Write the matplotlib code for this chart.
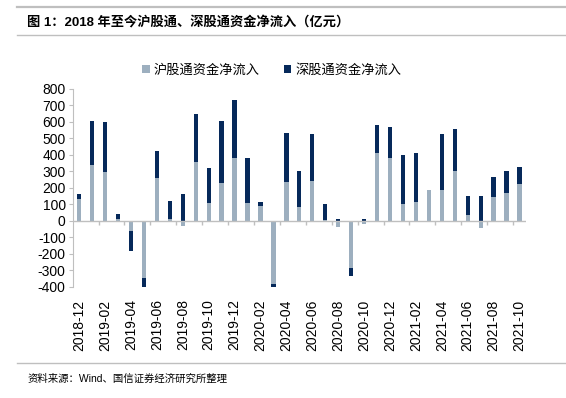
import matplotlib
matplotlib.use("Agg")
import matplotlib.pyplot as plt
from matplotlib.lines import Line2D
import numpy as np
import pandas as pd

plt.rcParams['font.family'] = ['Liberation Sans', 'Noto Sans CJK SC']
plt.rcParams['axes.unicode_minus'] = False

# data (亿元)
months = pd.period_range('2018-12', periods=35, freq='M').strftime('%Y-%m').tolist()
sh_flow = [135, 339, 295, 10, -61, -343, 263, 12, -30, 357, 109, 230, 382, 111, 89, -382, 236, 85,
           244, 5, -34, -283, -16, 412, 382, 103, 115, 186, 186, 303, 36, -44, 145, 172, 224]
sz_flow = [27, 267, 307, 32, -121, -65, 163, 107, 164, 291, 210, 374, 349, 271, 26, -25, 297, 216,
           283, 96, 12, -48, 14, 168, 190, 295, 297, 3, 339, 255, 116, 152, 124, 133, 101]
labels = ['沪股通资金净流入', '深股通资金净流入']

sh_color = '#9DAFBF'
sz_color = '#06295A'
axis_color = '#BFBFBF'

sh = np.array(sh_flow)
sz = np.array(sz_flow)
x = np.arange(len(months))
# excel style stacking: positives and negatives pile up separately
sz_bottom = np.where(np.sign(sz) == np.sign(sh), sh, 0)

fig = plt.figure(figsize=(5.66, 3.98), dpi=100)
ax = fig.add_axes([0.1284, 0.2789, 0.8009, 0.4975])

ax.bar(x, sh, width=0.33, color=sh_color, label=labels[0], zorder=2)
ax.bar(x, sz, width=0.33, bottom=sz_bottom, color=sz_color, label=labels[1], zorder=2)

ax.set_xlim(-0.5, len(months) - 0.5)
ax.set_ylim(-400, 800)
ax.set_yticks(np.arange(-400, 801, 100))
ax.tick_params(axis='y', labelsize=10, length=3, color=axis_color, pad=2)

ax.set_xticks(x[::2])
ax.set_xticklabels(months[::2], rotation=90, fontsize=10)
ax.tick_params(axis='x', length=0, pad=9)

for s in ['top', 'right', 'bottom']:
    ax.spines[s].set_visible(False)
ax.spines['left'].set_color(axis_color)

# zero line with tick marks every two months
ax.axhline(0, color=axis_color, lw=1, zorder=3)
ax.vlines(np.arange(1.5, len(months) - 1, 2), -22, 0, color=axis_color, lw=1, zorder=3)

leg = fig.legend(loc='center', bbox_to_anchor=(0.48, 0.824), ncol=2, frameon=False,
                 fontsize=9.5, handlelength=0.6, handleheight=0.6, handletextpad=0.3,
                 columnspacing=1.8)

fig.text(0.048, 0.945, '图 1：2018 年至今沪股通、深股通资金净流入（亿元）',
         fontsize=9.5, fontweight='bold', va='center', ha='left')
fig.text(0.048, 0.048, '资料来源：Wind、国信证券经济研究所整理', fontsize=7.5, va='center', ha='left')

fig.add_artist(Line2D([0.03, 1.0], [0.982, 0.982], color='#BFBFBF', lw=1.6))
fig.add_artist(Line2D([0.03, 1.0], [0.913, 0.913], color='#BFBFBF', lw=1.0))
fig.add_artist(Line2D([0.03, 1.0], [0.088, 0.088], color='#BFBFBF', lw=1.0))

fig.savefig('out.png', dpi=100)
